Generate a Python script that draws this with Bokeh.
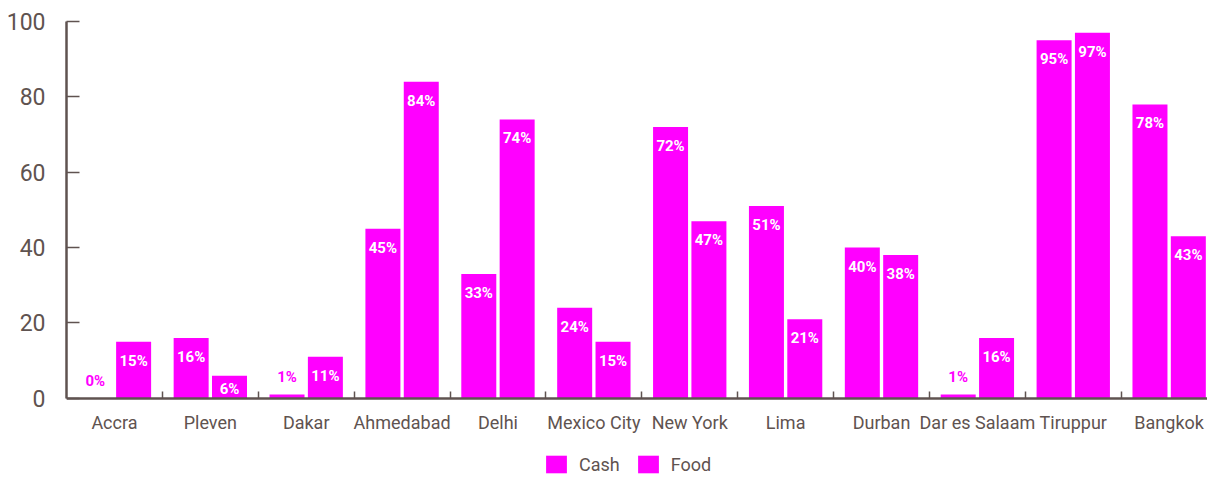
from bokeh.plotting import figure
from bokeh.models import (ColumnDataSource, Range1d, FixedTicker, Legend, LegendItem)
from bokeh.core.properties import value
from bokeh.transform import dodge
from bokeh.embed import file_html
from bokeh.resources import INLINE

cities = ["Accra", "Pleven", "Dakar", "Ahmedabad", "Delhi", "Mexico City",
          "New York", "Lima", "Durban", "Dar es Salaam", "Tiruppur", "Bangkok"]
cash = [0, 16, 1, 45, 33, 24, 72, 51, 40, 1, 95, 78]
food = [15, 6, 11, 84, 74, 15, 47, 21, 38, 16, 97, 43]
y_ticks = [0, 20, 40, 60, 80, 100]

MAGENTA = "#ff00ff"
AXIS = "#5f5350"
FONT = "Roboto"

centers = [i + 0.5 for i in range(len(cities))]
bounds = [i for i in range(1, len(cities))]

p = figure(width=1207, height=475, output_backend="svg", toolbar_location=None,
           x_range=Range1d(0, 11.9), y_range=Range1d(-20.5, 100),
           min_border_left=66, min_border_right=0, min_border_top=21,
           min_border_bottom=0)
p.outline_line_color = None
p.xgrid.visible = False
p.ygrid.visible = False

src = ColumnDataSource(dict(x=centers, cash=cash, food=food))
r_cash = p.vbar(x=dodge("x", -0.2), top="cash", bottom=0, width=0.365, source=src,
                fill_color=MAGENTA, line_color=None)
r_food = p.vbar(x=dodge("x", 0.2), top="food", bottom=0, width=0.365, source=src,
                fill_color=MAGENTA, line_color=None)

# value labels
def label_sources(vals, off):
    ins = dict(x=[], y=[], t=[], dy=[])
    outs = dict(x=[], y=[], t=[])
    for c, v in zip(centers, vals):
        if v >= 5:
            ins["x"].append(c + off)
            ins["y"].append(v)
            ins["t"].append(f"{v}%")
            ins["dy"].append(10 if v >= 10 else 4)
        else:
            outs["x"].append(c + off)
            outs["y"].append(v)
            outs["t"].append(f"{v}%")
    return ColumnDataSource(ins), ColumnDataSource(outs)

for vals, off in ((cash, -0.2), (food, 0.2)):
    s_in, s_out = label_sources(vals, off)
    p.text(x="x", y="y", text="t", source=s_in, text_color="white",
           text_font=value(FONT), text_font_style="bold", text_font_size="15px",
           text_align="center", text_baseline="top", y_offset="dy")
    p.text(x="x", y="y", text="t", source=s_out, text_color=MAGENTA,
           text_font=value(FONT), text_font_style="bold", text_font_size="15px",
           text_align="center", text_baseline="bottom", y_offset=-8)

# y axis
ya = p.yaxis[0]
ya.ticker = FixedTicker(ticks=y_ticks)
ya.bounds = (0, 100)
ya.axis_line_color = AXIS
ya.axis_line_width = 2.5
ya.major_tick_line_color = AXIS
ya.major_tick_line_width = 1.5
ya.major_tick_in = 13
ya.major_tick_out = 0
ya.minor_tick_line_color = None
ya.major_label_text_font = FONT
ya.major_label_text_font_size = "23px"
ya.major_label_text_color = AXIS
ya.major_label_standoff = 21

# x axis, drawn at y = 0 inside the frame
xa = p.xaxis[0]
xa.fixed_location = 0
xa.ticker = FixedTicker(ticks=centers, minor_ticks=bounds)
xa.major_label_overrides = {c: n for c, n in zip(centers, cities)}
xa.axis_line_color = AXIS
xa.axis_line_width = 2.5
xa.major_tick_line_color = None
xa.major_tick_in = 0
xa.major_tick_out = 0
xa.minor_tick_line_color = AXIS
xa.minor_tick_line_width = 1.5
xa.minor_tick_in = 7
xa.minor_tick_out = 0
xa.major_label_text_font = FONT
xa.major_label_text_font_size = "18px"
xa.major_label_text_color = AXIS
xa.major_label_standoff = 14

legend = Legend(items=[LegendItem(label="Cash", renderers=[r_cash]),
                       LegendItem(label="Food", renderers=[r_food])],
                orientation="horizontal", location=(477, 0),
                glyph_width=26, glyph_height=22, label_height=22,
                label_standoff=10, spacing=15,
                padding=0, margin=0, border_line_color=None,
                background_fill_alpha=0, label_text_font=FONT,
                label_text_font_size="18px", label_text_color=AXIS)
p.add_layout(legend, "center")

open("out.html", "w").write(file_html(p, INLINE))
